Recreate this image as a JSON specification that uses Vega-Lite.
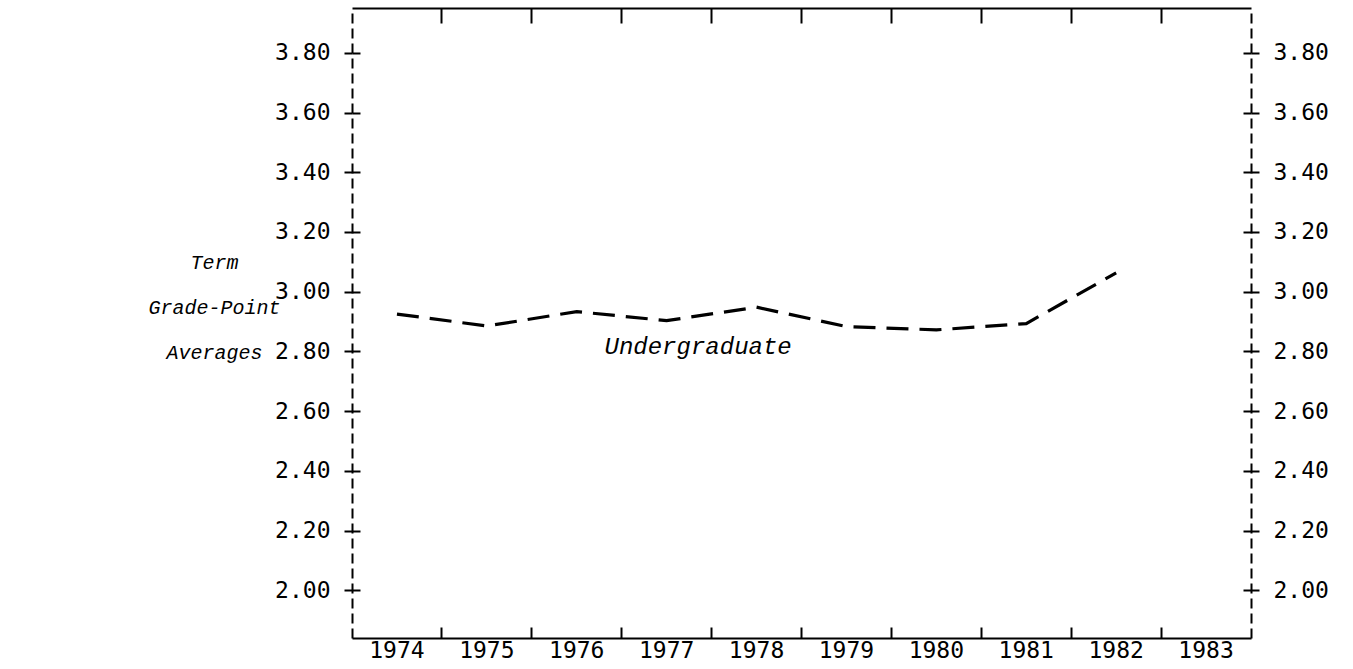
{
  "$schema": "https://vega.github.io/schema/vega-lite/v6.json",
  "autosize": "none",
  "width": 899,
  "height": 630,
  "padding": {"left": 352, "top": 8, "right": 102, "bottom": 31},
  "background": "white",
  "data": {"values": [
    {"year": "1974", "gpa": 2.925},
    {"year": "1975", "gpa": 2.885},
    {"year": "1976", "gpa": 2.933},
    {"year": "1977", "gpa": 2.903},
    {"year": "1978", "gpa": 2.948},
    {"year": "1979", "gpa": 2.883},
    {"year": "1980", "gpa": 2.872},
    {"year": "1981", "gpa": 2.893},
    {"year": "1982", "gpa": 3.063}
  ]},
  "config": {
    "view": {"stroke": null},
    "axis": {
      "grid": false,
      "labelFont": "DejaVu Sans Mono",
      "labelFontSize": 23,
      "labelColor": "black",
      "domainColor": "black",
      "tickColor": "black",
      "tickWidth": 2,
      "domainWidth": 2
    }
  },
  "layer": [
    {
      "mark": {"type": "line", "color": "black", "strokeWidth": 3.2, "strokeDash": [22, 11]},
      "encoding": {
        "x": {
          "field": "year", "type": "ordinal", "bandPosition": 0.5,
          "scale": {"type": "band", "domain": ["1974","1975","1976","1977","1978","1979","1980","1981","1982","1983"], "paddingInner": 0, "paddingOuter": 0},
          "axis": {"orient": "bottom", "ticks": false, "tickSize": 0, "labelAngle": 0, "labelPadding": 1, "title": null, "domain": true, "bandPosition": 0.5}
        },
        "y": {
          "field": "gpa", "type": "quantitative",
          "scale": {"domain": [1.84, 3.95], "nice": false, "zero": false},
          "axis": {
            "orient": "left", "values": [2.0, 2.2, 2.4, 2.6, 2.8, 3.0, 3.2, 3.4, 3.6, 3.8], "format": ".2f",
            "tickSize": 8, "labelPadding": 14, "domainDash": [10, 5],
            "title": ["Term", "Grade-Point", "Averages"],
            "titleAngle": 0, "titleAlign": "center", "titleBaseline": "middle",
            "titleX": -138, "titleY": 254, "titleFont": "Liberation Mono", "titleFontStyle": "italic",
            "titleFontWeight": "normal", "titleFontSize": 20, "titleLineHeight": 45, "titleColor": "black"
          }
        }
      }
    },
    {
      "data": {"values": [{"year": "1977", "gpa": 2.813, "label": "Undergraduate"}]},
      "mark": {"type": "text", "font": "Liberation Mono", "fontStyle": "italic", "fontSize": 24, "align": "center", "baseline": "middle", "color": "black"},
      "encoding": {
        "x": {"field": "year", "type": "ordinal", "bandPosition": 0.85, "axis": null},
        "y": {"field": "gpa", "type": "quantitative", "axis": null},
        "text": {"field": "label"}
      }
    },
    {
      "mark": {"type": "line", "opacity": 0},
      "encoding": {
        "x": {"field": "year", "type": "ordinal",
          "axis": {"orient": "bottom", "values": ["1975","1976","1977","1978","1979","1980","1981","1982","1983"], "bandPosition": 0, "tickSize": -11, "labels": false, "domain": false, "title": null}},
        "y": {"field": "gpa", "type": "quantitative",
          "axis": {"orient": "right", "values": [2.0, 2.2, 2.4, 2.6, 2.8, 3.0, 3.2, 3.4, 3.6, 3.8], "format": ".2f", "tickSize": 8, "labelPadding": 14, "domainDash": [10, 5], "title": null}}
      }
    },
    {
      "mark": {"type": "line", "opacity": 0},
      "encoding": {
        "x": {"field": "year", "type": "ordinal",
          "axis": {"orient": "top", "values": ["1975","1976","1977","1978","1979","1980","1981","1982","1983"], "bandPosition": 0, "tickSize": -15, "labels": false, "domain": true, "title": null}},
        "y": {"field": "gpa", "type": "quantitative",
          "axis": {"orient": "left", "values": [2.0, 2.2, 2.4, 2.6, 2.8, 3.0, 3.2, 3.4, 3.6, 3.8], "tickSize": -8, "labels": false, "domain": false, "title": null}}
      }
    },
    {
      "mark": {"type": "line", "opacity": 0},
      "encoding": {
        "x": {"field": "year", "type": "ordinal", "axis": null},
        "y": {"field": "gpa", "type": "quantitative",
          "axis": {"orient": "right", "values": [2.0, 2.2, 2.4, 2.6, 2.8, 3.0, 3.2, 3.4, 3.6, 3.8], "tickSize": -8, "labels": false, "domain": false, "title": null}}
      }
    }
  ],
  "resolve": {"axis": {"x": "independent", "y": "independent"}}
}
